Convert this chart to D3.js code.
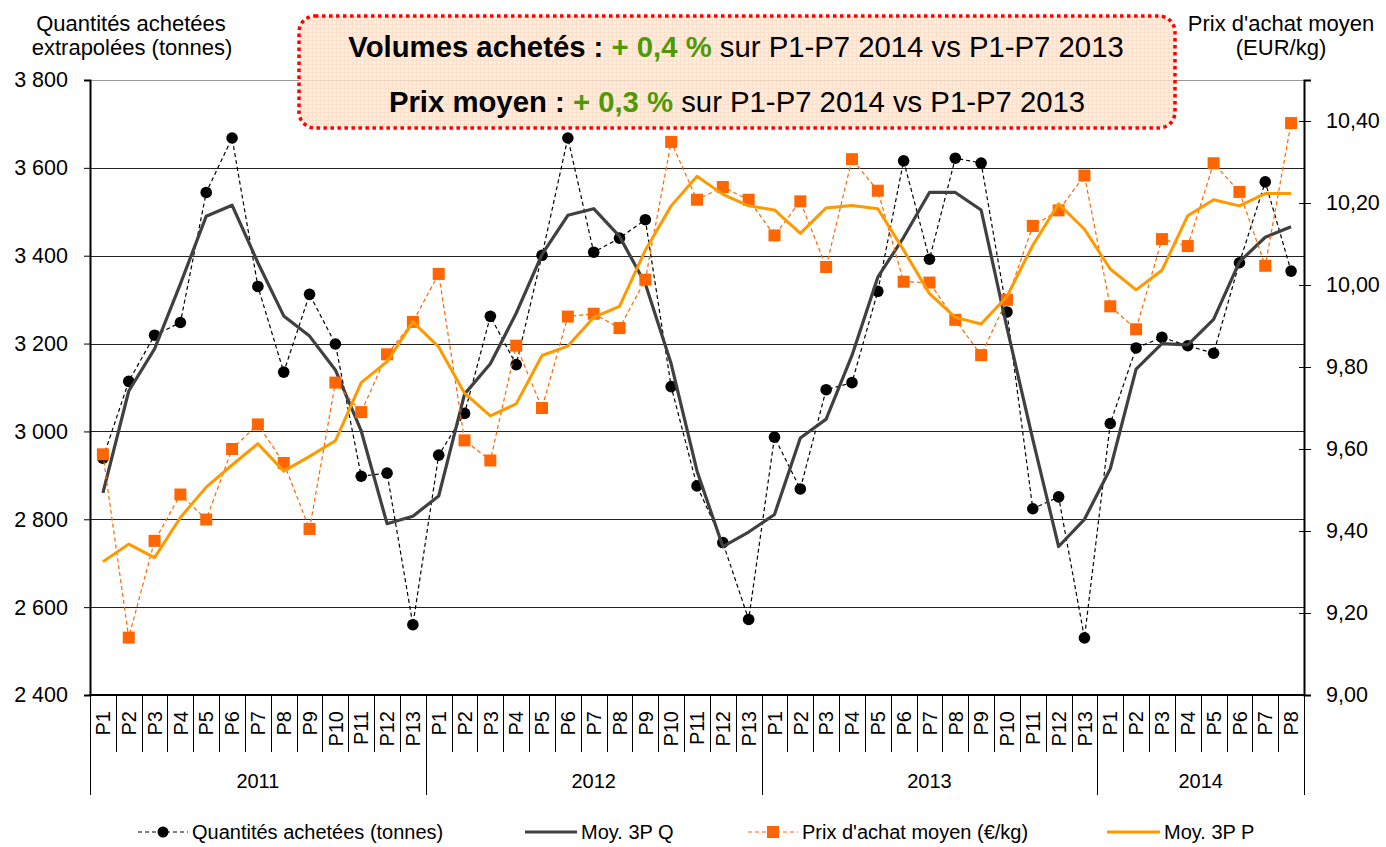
<!DOCTYPE html>
<html>
<head>
<meta charset="utf-8">
<script src="https://cdn.jsdelivr.net/npm/d3@7"></script>
<style>
  body { margin: 0; background: #fff; }
  svg { display: block; font-family: "Liberation Sans", Arial, sans-serif; }
</style>
</head>
<body>
<div id="chart"></div>
<script>
// periods: 13 per year, 2014 stops at P8
const years = ["2011", "2012", "2013", "2014"];
const periodCounts = [13, 13, 13, 8];

const quantites = [
  2939, 3114, 3219, 3248, 3544, 3668, 3330, 3135, 3312, 3199, 2898, 2905, 2560,
  2946, 3041, 3262, 3152, 3401, 3668, 3408, 3440, 3482, 3102, 2876, 2747, 2572,
  2987, 2869, 3095, 3111, 3319, 3616, 3392, 3622, 3611, 3272, 2824, 2851, 2530,
  3018, 3190, 3214, 3195, 3178, 3384, 3568, 3365
];
const moyQ = [
  2860, 3092, 3188, 3336, 3490, 3515, 3384, 3263, 3217, 3140, 3001, 2790, 2807,
  2853, 3085, 3154, 3269, 3403, 3492, 3507, 3444, 3336, 3154, 2910, 2738, 2771,
  2811, 2985, 3028, 3173, 3351, 3442, 3544, 3544, 3504, 3236, 2982, 2738, 2800,
  2915, 3142, 3200, 3197, 3255, 3386, 3442, 3466
];
const prix = [
  9.587, 9.140, 9.376, 9.489, 9.428, 9.600, 9.660, 9.566, 9.405, 9.762, 9.690, 9.831, 9.910,
  10.027, 9.621, 9.572, 9.852, 9.700, 9.923, 9.930, 9.895, 10.013, 10.349, 10.208, 10.239, 10.208,
  10.121, 10.204, 10.044, 10.307, 10.230, 10.008, 10.006, 9.915, 9.829, 9.964, 10.144, 10.182, 10.267,
  9.948, 9.892, 10.112, 10.095, 10.297, 10.227, 10.047, 10.395
];
const moyP = [
  9.325, 9.368, 9.335, 9.433, 9.507, 9.561, 9.613, 9.546, 9.582, 9.620, 9.762, 9.813, 9.910,
  9.849, 9.736, 9.681, 9.710, 9.828, 9.851, 9.921, 9.948, 10.085, 10.193, 10.265, 10.221, 10.193,
  10.183, 10.126, 10.188, 10.194, 10.186, 10.085, 9.979, 9.921, 9.905, 9.972, 10.097, 10.198, 10.136,
  10.039, 9.988, 10.036, 10.169, 10.208, 10.193, 10.223, 10.223
];

const leftTicks = [2400, 2600, 2800, 3000, 3200, 3400, 3600, 3800];
const rightTicks = [9.0, 9.2, 9.4, 9.6, 9.8, 10.0, 10.2, 10.4];

const legendLabels = ["Quantités achetées (tonnes)", "Moy. 3P Q", "Prix d'achat moyen (€/kg)", "Moy. 3P P"];

const categories = [];
years.forEach((year, i) => {
  for (let p = 1; p <= periodCounts[i]; p++) categories.push({ year, period: "P" + p });
});

const width = 1386;
const height = 847;
const plot = { left: 90, right: 1304, top: 80, bottom: 695 };

const fr = d3.formatLocale({ decimal: ",", thousands: " ", grouping: [3], currency: ["", " €"] });

const x = d3.scaleBand().domain(d3.range(categories.length)).range([plot.left, plot.right]);
const cx = (i) => x(i) + x.bandwidth() / 2;
const yL = d3.scaleLinear().domain([2400, 3800]).range([plot.bottom, plot.top]);
const yR = d3.scaleLinear().domain([9, 10.5]).range([plot.bottom, plot.top]);

const svg = d3.select("#chart").append("svg")
  .attr("width", width)
  .attr("height", height);

// grid
svg.append("g")
  .selectAll("line")
  .data(leftTicks.slice(1))
  .join("line")
  .attr("x1", plot.left)
  .attr("x2", plot.right)
  .attr("y1", (d) => Math.round(yL(d)) + 0.5)
  .attr("y2", (d) => Math.round(yL(d)) + 0.5)
  .attr("stroke", (d) => d === 3800 ? "#9a9a9a" : "#222")
  .attr("stroke-width", 1);

// axes
const leftAxis = svg.append("g")
  .attr("transform", `translate(${plot.left},0)`)
  .call(d3.axisLeft(yL).tickValues(leftTicks).tickSize(6).tickPadding(16).tickFormat(fr.format(",")));

const rightAxis = svg.append("g")
  .attr("transform", `translate(${plot.right},0)`)
  .call(d3.axisRight(yR).tickValues(rightTicks).tickSize(7).tickPadding(15).tickFormat(fr.format(".2f")));
rightAxis.selectAll(".tick line").attr("x1", -5);

[leftAxis, rightAxis].forEach((axis) => {
  axis.select(".domain").attr("stroke", "#000").attr("stroke-width", 2);
  axis.selectAll(".tick line").attr("stroke", "#000");
  axis.selectAll(".tick text")
    .attr("fill", "#000")
    .style("font-size", "21.5px")
    .style("font-family", "'Liberation Sans', Arial, sans-serif");
});

// bottom axis: periods and years
const xAxis = svg.append("g");
xAxis.append("line")
  .attr("x1", plot.left - 1)
  .attr("x2", plot.right + 1)
  .attr("y1", plot.bottom)
  .attr("y2", plot.bottom)
  .attr("stroke", "#000")
  .attr("stroke-width", 2);

const yearStarts = [];
let acc = 0;
periodCounts.forEach((c) => { yearStarts.push(acc); acc += c; });
const isYearEdge = (i) => i === categories.length || yearStarts.includes(i);

xAxis.selectAll(".sep")
  .data(d3.range(categories.length + 1))
  .join("line")
  .attr("class", "sep")
  .attr("x1", (i) => Math.round(i < categories.length ? x(i) : plot.right) + 0.5)
  .attr("x2", (i) => Math.round(i < categories.length ? x(i) : plot.right) + 0.5)
  .attr("y1", plot.bottom)
  .attr("y2", (i) => isYearEdge(i) ? 795 : 752)
  .attr("stroke", "#000")
  .attr("stroke-width", 1);

xAxis.selectAll(".period")
  .data(categories)
  .join("text")
  .attr("class", "period")
  .attr("transform", (d, i) => `translate(${cx(i)},711) rotate(-90)`)
  .attr("text-anchor", "end")
  .attr("dy", "0.36em")
  .style("font-size", "20px")
  .text((d) => d.period);

xAxis.selectAll(".year")
  .data(years)
  .join("text")
  .attr("class", "year")
  .attr("x", (d, i) => {
    const a = x(yearStarts[i]);
    const last = yearStarts[i] + periodCounts[i] - 1;
    return (a + x(last) + x.bandwidth()) / 2;
  })
  .attr("y", 788)
  .attr("text-anchor", "middle")
  .style("font-size", "20px")
  .text((d) => d);

// series
const lineQ = d3.line().x((d, i) => cx(i)).y((d) => yL(d));
const lineP = d3.line().x((d, i) => cx(i)).y((d) => yR(d));

svg.append("path")
  .datum(quantites)
  .attr("d", lineQ)
  .attr("fill", "none")
  .attr("stroke", "#000")
  .attr("stroke-width", 1.2)
  .attr("stroke-dasharray", "4,3");
svg.append("g")
  .selectAll("circle")
  .data(quantites)
  .join("circle")
  .attr("cx", (d, i) => cx(i))
  .attr("cy", (d) => yL(d))
  .attr("r", 5.8)
  .attr("fill", "#000");

svg.append("path")
  .datum(moyQ)
  .attr("d", lineQ)
  .attr("fill", "none")
  .attr("stroke", "#404040")
  .attr("stroke-width", 3.2)
  .attr("stroke-linejoin", "round");

svg.append("path")
  .datum(prix)
  .attr("d", lineP)
  .attr("fill", "none")
  .attr("stroke", "#FF6600")
  .attr("stroke-width", 1.2)
  .attr("stroke-dasharray", "4,3");
svg.append("g")
  .selectAll("rect")
  .data(prix)
  .join("rect")
  .attr("x", (d, i) => cx(i) - 6)
  .attr("y", (d) => yR(d) - 6)
  .attr("width", 12)
  .attr("height", 12)
  .attr("fill", "#FF6600");

svg.append("path")
  .datum(moyP)
  .attr("d", lineP)
  .attr("fill", "none")
  .attr("stroke", "#FF9900")
  .attr("stroke-width", 3)
  .attr("stroke-linejoin", "round");

// axis titles
const titles = svg.append("g").style("font-size", "22px").attr("text-anchor", "middle");
titles.append("text").attr("x", 131).attr("y", 31).text("Quantités achetées");
titles.append("text").attr("x", 132).attr("y", 55).text("extrapolées (tonnes)");
titles.append("text").attr("x", 1281).attr("y", 31).text("Prix d'achat moyen");
titles.append("text").attr("x", 1281).attr("y", 55).text("(EUR/kg)");

// summary box
const defs = svg.append("defs");
const pat = defs.append("pattern")
  .attr("id", "peach")
  .attr("width", 4)
  .attr("height", 4)
  .attr("patternUnits", "userSpaceOnUse");
pat.append("rect").attr("width", 4).attr("height", 4).attr("fill", "#fde9da");
pat.append("path").attr("d", "M0,0.5H4M0.5,0V4").attr("stroke", "#f9d3b4").attr("stroke-width", 1).attr("opacity", 0.6);

svg.append("rect")
  .attr("x", 299)
  .attr("y", 16)
  .attr("width", 876)
  .attr("height", 112)
  .attr("rx", 16)
  .attr("fill", "url(#peach)")
  .attr("fill-opacity", 0.85)
  .attr("stroke", "#ff0000")
  .attr("stroke-width", 3.5)
  .attr("stroke-dasharray", "3.5,3.5");

const boxLines = [
  { head: "Volumes achetés : ", pct: "+ 0,4 %", tail: " sur P1-P7 2014 vs P1-P7 2013", x: 736, y: 57 },
  { head: "Prix moyen : ", pct: "+ 0,3 %", tail: " sur P1-P7 2014 vs P1-P7 2013", x: 737, y: 112 }
];
boxLines.forEach((l) => {
  const t = svg.append("text")
    .attr("x", l.x)
    .attr("y", l.y)
    .attr("text-anchor", "middle")
    .style("font-size", "29.3px")
    .style("white-space", "pre");
  t.append("tspan").attr("font-weight", "bold").text(l.head);
  t.append("tspan").attr("font-weight", "bold").attr("fill", "#4e9a06").text(l.pct);
  t.append("tspan").text(l.tail);
});

// legend
const legend = svg.append("g").style("font-size", "20px");
const lgY = 832;
const lgItems = [
  { x1: 138, x2: 188, color: "#000", width: 1.2, dash: "4,3", marker: "circle" },
  { x1: 525, x2: 577, color: "#404040", width: 3, dash: null, marker: null },
  { x1: 748, x2: 798, color: "#FF6600", width: 1.2, dash: "4,3", marker: "square" },
  { x1: 1107, x2: 1160, color: "#FF9900", width: 3, dash: null, marker: null }
];
lgItems.forEach((it, i) => {
  legend.append("line")
    .attr("x1", it.x1).attr("x2", it.x2)
    .attr("y1", lgY).attr("y2", lgY)
    .attr("stroke", it.color)
    .attr("stroke-width", it.width)
    .attr("stroke-dasharray", it.dash);
  const mx = (it.x1 + it.x2) / 2;
  if (it.marker === "circle") {
    legend.append("circle").attr("cx", mx).attr("cy", lgY).attr("r", 5.5).attr("fill", it.color);
  } else if (it.marker === "square") {
    legend.append("rect").attr("x", mx - 6).attr("y", lgY - 6).attr("width", 12).attr("height", 12).attr("fill", it.color);
  }
  legend.append("text")
    .attr("x", it.x2 + 4)
    .attr("y", lgY + 7)
    .text(legendLabels[i]);
});
</script>
</body>
</html>
